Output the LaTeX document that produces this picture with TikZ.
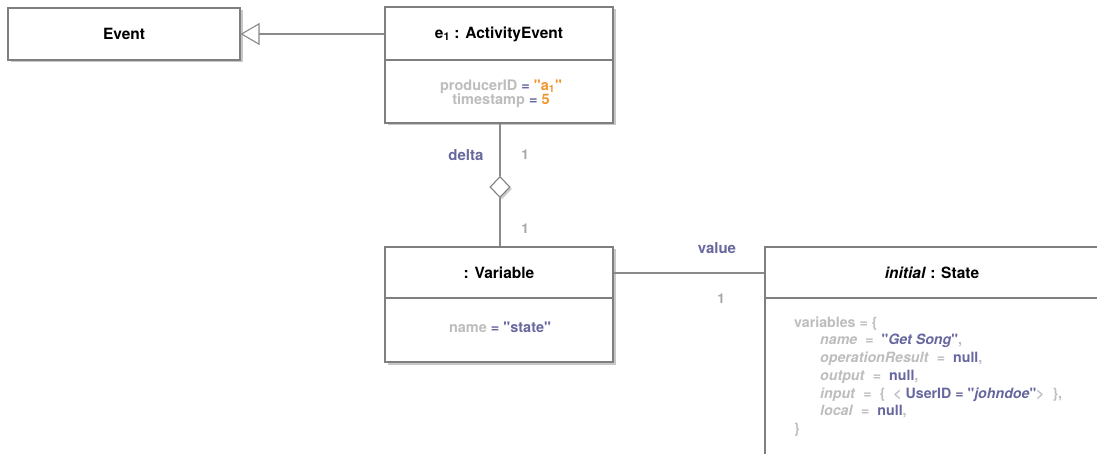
\documentclass[tikz,border=0pt]{standalone}
\usepackage{fontspec}
\setmainfont{TeX Gyre Heros}[Ligatures=TeXOff]
\usetikzlibrary{shapes.geometric,arrows.meta,shadows}
\definecolor{boxline}{HTML}{7F7F7F}
\definecolor{conline}{HTML}{8A8A8A}
\definecolor{attrgrey}{HTML}{BDBDBD}
\definecolor{valpurple}{HTML}{67679F}
\definecolor{valorange}{HTML}{F2962E}
\definecolor{multgrey}{HTML}{A6A6A6}
\tikzset{
  umlbox/.style={draw=boxline, line width=1.1pt, fill=white, rectangle, inner sep=0pt,
    drop shadow={shadow xshift=2.5pt, shadow yshift=-2.5pt, opacity=0.22, fill=black}},
  titletext/.style={font=\fontsize{15.5}{17}\selectfont\bfseries, text=black},
  attrtext/.style={font=\fontsize{14.5}{14}\selectfont\bfseries, text=attrgrey, align=center},
  conn/.style={draw=conline, line width=1.1pt},
  divider/.style={draw=boxline, line width=1.1pt},
  rolelabel/.style={font=\fontsize{15}{16}\selectfont\bfseries, text=valpurple},
  multlabel/.style={font=\fontsize{13.5}{15}\selectfont\bfseries, text=multgrey},
}
\newcommand{\gapsp}{\hspace*{8pt}}
\begin{document}
\begin{tikzpicture}[x=1pt,y=-1pt]
\useasboundingbox[fill=white] (0,0) rectangle (1097,454);

% Event
\node[umlbox, minimum width=232pt, minimum height=52pt] (ev) at (124,34) {};
\node[titletext] (evt) at (124,34) {Event};

% ActivityEvent
\node[umlbox, minimum width=228pt, minimum height=116pt] (ae) at (499,65) {};
\node[titletext] (aet) at (499,34) {e\textsubscript{1} : ActivityEvent};
\draw[divider] (ae.west |- 0,60) -- (ae.east |- 0,60);
\node[attrtext] (aea) at (501,94) {producerID \textcolor{valpurple}{=} \textcolor{valorange}{"a\textsubscript{1}"}\\
timestamp \textcolor{valpurple}{=} \textcolor{valorange}{5}};

% Variable
\node[umlbox, minimum width=228pt, minimum height=115pt] (var) at (499,304.5) {};
\node[titletext] (vart) at (499,273) {: Variable};
\draw[divider] (var.west |- 0,298) -- (var.east |- 0,298);
\node[attrtext] (vara) at (500,327) {name \textcolor{valpurple}{= "state"}};

% State (cut off by the picture's edges)
\begin{scope}
\clip (0,0) rectangle (1097,454);
\node[umlbox, minimum width=334pt, minimum height=260pt] (st) at (932,377) {};
\draw[divider] (st.west |- 0,298) -- (st.east |- 0,298);
\end{scope}
\node[titletext] (stt) at (932,273) {\textit{initial} : State};
\node[font=\fontsize{14.2}{17.7}\selectfont\bfseries, text=attrgrey, align=left, anchor=north west, inner sep=0pt] (sta) at (794,316.5)
{variables = \{\\
\hspace*{26pt}\textit{name}\gapsp=\gapsp\textcolor{valpurple}{"\textit{Get Song}"},\\
\hspace*{26pt}\textit{operationResult}\gapsp=\gapsp\textcolor{valpurple}{null},\\
\hspace*{26pt}\textit{output}\gapsp=\gapsp\textcolor{valpurple}{null},\\
\hspace*{26pt}\textit{input}\gapsp=\gapsp\{\gapsp<\hspace*{4pt}\textcolor{valpurple}{UserID = "\textit{johndoe}"}>\gapsp\},\\
\hspace*{26pt}\textit{local}\gapsp=\gapsp\textcolor{valpurple}{null},\\
\}};

% Inheritance
\draw[conn, -{Triangle[open, length=19pt, width=22pt, fill=white]}] (ae.west |- aet) -- (ev.east |- aet);

% delta aggregation
\node[diamond, draw=boxline, line width=1.1pt, fill=white, minimum width=20pt, minimum height=21pt, inner sep=0pt,
  drop shadow={shadow xshift=2pt, shadow yshift=-2pt, opacity=0.2, fill=black}] (dia) at (500,187) {};
\draw[conn] (ae.south -| dia) -- (dia.north);
\draw[conn] (dia.south) -- (var.north -| dia);
\node[rolelabel] (delta) at (466,155) {delta};
\node[multlabel] (m1) at (525,155) {1};
\node[multlabel] (m2) at (525,229) {1};

% value association
\draw[conn] (var.east |- vart) -- (st.west |- stt);
\node[rolelabel] (value) at (717,248) {value};
\node[multlabel] (m3) at (721,299) {1};
\end{tikzpicture}
\end{document}
